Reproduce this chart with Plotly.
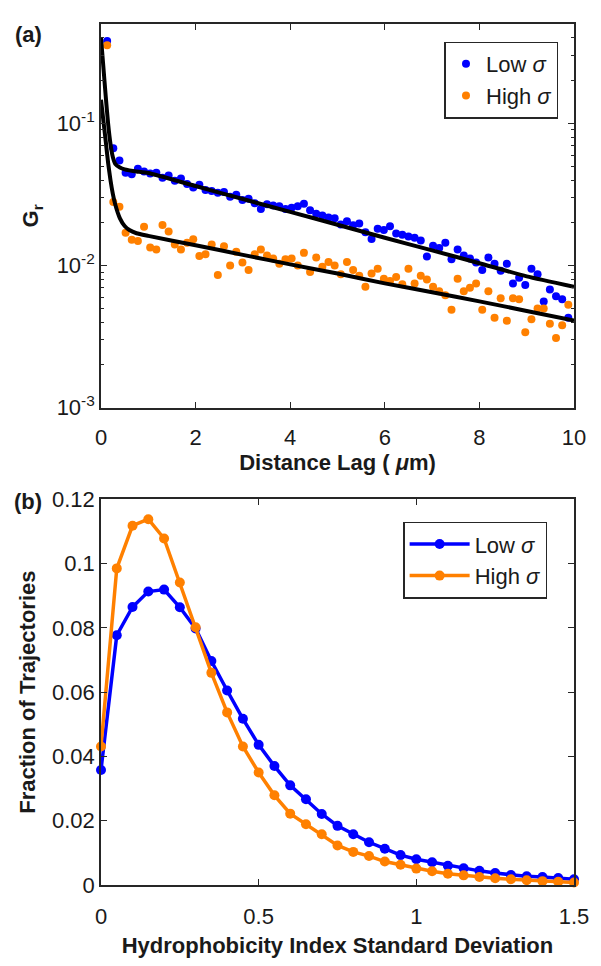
import plotly.graph_objects as go

# ---------------- Panel (a) data ----------------
lag_x = [round(0.13 * k, 2) for k in range(1, 78)]

gr_low = [0.38, 0.067, 0.055, 0.045, 0.044, 0.048, 0.046, 0.0445, 0.045, 0.0415,
          0.043, 0.0395, 0.041, 0.0375, 0.0355, 0.037, 0.034, 0.0335, 0.0325, 0.033,
          0.0305, 0.0315, 0.029, 0.0295, 0.0275, 0.025, 0.027, 0.0265, 0.0262, 0.025,
          0.0255, 0.0262, 0.0272, 0.0245, 0.0232, 0.0225, 0.0218, 0.0215, 0.0195, 0.0205,
          0.0192, 0.0198, 0.0172, 0.0154, 0.0182, 0.0178, 0.0189, 0.0168, 0.0165, 0.0160,
          0.0157, 0.0150, 0.0116, 0.0138, 0.0133, 0.0145, 0.0111, 0.0130, 0.0118, 0.0112,
          0.0105, 0.0093, 0.0114, 0.0103, 0.0092, 0.0103, 0.0075, 0.0082, 0.0073, 0.0095,
          0.0087, 0.0056, 0.0068, 0.0061, 0.0058, 0.0043, 0.0066]

gr_high = [0.355, 0.028, 0.026, 0.017, 0.0152, 0.0149, 0.0188, 0.0134, 0.0130, 0.0193,
           0.0174, 0.0141, 0.0130, 0.0145, 0.0153, 0.0117, 0.0120, 0.0141, 0.0086, 0.0137,
           0.0100, 0.0125, 0.0105, 0.0093, 0.0120, 0.0130, 0.0118, 0.0112, 0.0103, 0.0111,
           0.0112, 0.0100, 0.0123, 0.0090, 0.0114, 0.0098, 0.0106, 0.0100, 0.0087, 0.0106,
           0.0093, 0.0085, 0.0071, 0.0088, 0.0095, 0.0081, 0.0078, 0.0083, 0.0074, 0.0095,
           0.0075, 0.0085, 0.0080, 0.0071, 0.0066, 0.0062, 0.0049, 0.0081, 0.0066, 0.0070,
           0.0075, 0.0049, 0.0066, 0.0043, 0.0059, 0.0041, 0.0059, 0.0058, 0.0034, 0.0042,
           0.0050, 0.0050, 0.0039, 0.0031, 0.0038, 0.0053, 0.0035]

fit_x = [0, 0.05, 0.1, 0.15, 0.2, 0.25, 0.3, 0.4, 0.5, 0.6, 0.75, 1, 2, 3, 4, 5, 6, 7, 8, 9, 10]
fit_low = [0.40, 0.25, 0.155, 0.10, 0.072, 0.058, 0.052, 0.049, 0.0475, 0.0468, 0.046, 0.0448,
           0.0363, 0.0294, 0.0239, 0.0194, 0.0157, 0.0128, 0.0104, 0.0084, 0.0071]
fit_high = [0.147, 0.105, 0.075, 0.053, 0.040, 0.032, 0.027, 0.0215, 0.019, 0.0178, 0.0169, 0.0162,
            0.0139, 0.0119, 0.0102, 0.0088, 0.0075, 0.0065, 0.0056, 0.0048, 0.0041]

# ---------------- Panel (b) data ----------------
sd_x = [0, 0.05, 0.1, 0.15, 0.2, 0.25, 0.3, 0.35, 0.4, 0.45, 0.5, 0.55, 0.6, 0.65, 0.7, 0.75,
        0.8, 0.85, 0.9, 0.95, 1.0, 1.05, 1.1, 1.15, 1.2, 1.25, 1.3, 1.35, 1.4, 1.45, 1.5]
frac_low = [0.0358, 0.0777, 0.0865, 0.0913, 0.0919, 0.0864, 0.0798, 0.0697, 0.0605, 0.0517,
            0.0436, 0.037, 0.031, 0.0267, 0.0221, 0.0184, 0.0158, 0.0133, 0.0113, 0.0093,
            0.008, 0.0071, 0.006, 0.0052, 0.0044, 0.0037, 0.0031, 0.0027, 0.0025, 0.0022, 0.0018]
frac_high = [0.0431, 0.0985, 0.1118, 0.1138, 0.1078, 0.0941, 0.0802, 0.066, 0.0537, 0.0431,
             0.035, 0.0279, 0.0222, 0.0189, 0.0158, 0.0123, 0.0103, 0.009, 0.0073, 0.0063,
             0.0051, 0.0043, 0.0035, 0.003, 0.0025, 0.0021, 0.0018, 0.0015, 0.0012, 0.001, 0.0008]

y_ticks_a = [0.001, 0.01, 0.1]
y_ticktext_a = ["10<sup>-3</sup>", "10<sup>-2</sup>", "10<sup>-1</sup>"]
y_minor_a = [2e-3, 3e-3, 4e-3, 5e-3, 6e-3, 7e-3, 8e-3, 9e-3,
             2e-2, 3e-2, 4e-2, 5e-2, 6e-2, 7e-2, 8e-2, 9e-2,
             0.2, 0.3, 0.4, 0.5]

BLUE = "#0000FF"
ORANGE = "#FF8000"
AX = "#262626"
FONT = "Liberation Sans, Arial, sans-serif"
TXT = "#1a1a1a"

fig = go.Figure()

fig.add_trace(go.Scatter(x=lag_x, y=gr_low, mode="markers", name="Low <i>σ</i>",
                         marker=dict(color=BLUE, size=8), cliponaxis=False,
                         xaxis="x", yaxis="y", legend="legend"))
fig.add_trace(go.Scatter(x=lag_x, y=gr_high, mode="markers", name="High <i>σ</i>",
                         marker=dict(color=ORANGE, size=8), cliponaxis=False,
                         xaxis="x", yaxis="y", legend="legend"))
fig.add_trace(go.Scatter(x=fit_x, y=fit_low, mode="lines", showlegend=False,
                         line=dict(color="black", width=4, shape="spline", smoothing=0.5),
                         xaxis="x", yaxis="y"))
fig.add_trace(go.Scatter(x=fit_x, y=fit_high, mode="lines", showlegend=False,
                         line=dict(color="black", width=4, shape="spline", smoothing=0.5),
                         xaxis="x", yaxis="y"))

fig.add_trace(go.Scatter(x=sd_x, y=frac_low, mode="lines+markers", name="Low <i>σ</i>",
                         line=dict(color=BLUE, width=3.5), marker=dict(color=BLUE, size=10),
                         cliponaxis=False, xaxis="x2", yaxis="y2", legend="legend2"))
fig.add_trace(go.Scatter(x=sd_x, y=frac_high, mode="lines+markers", name="High <i>σ</i>",
                         line=dict(color=ORANGE, width=3.5), marker=dict(color=ORANGE, size=10),
                         cliponaxis=False, xaxis="x2", yaxis="y2", legend="legend2"))

axis_common = dict(showline=True, linecolor=AX, linewidth=1.6, mirror="ticks",
                   ticks="inside", ticklen=6, tickwidth=1.2, tickcolor=AX,
                   showgrid=False, zeroline=False,
                   tickfont=dict(family=FONT, size=22, color=TXT))

L, R, T, B = 101, 12, 15, 67
H = 966
plot_w = 601 - L - R
plot_h = H - T - B
a_bottom = (899 - 409) / plot_h
b_top = (899 - 503) / plot_h

title_font = dict(family=FONT, size=22, color=TXT)

fig.update_layout(
    width=601, height=966,
    margin=dict(l=L, r=R, t=T, b=B),
    paper_bgcolor="white", plot_bgcolor="white",
    font=dict(family=FONT, size=22, color=TXT),
    xaxis=dict(axis_common, domain=[0, 1], range=[0, 10], tickvals=[0, 2, 4, 6, 8, 10],
               anchor="y", ticklabelstandoff=9,
               title=dict(text="<b>Distance Lag ( <i>μ</i>m)</b>", standoff=5, font=title_font)),
    yaxis=dict(axis_common, domain=[a_bottom, 1], type="log", range=[-3, -0.3],
               tickvals=y_ticks_a, ticktext=y_ticktext_a, anchor="x",
               minor=dict(tickvals=y_minor_a, ticks="inside", ticklen=3, tickcolor=AX),
               title=dict(text="<b>G<sub>r</sub></b>", standoff=12, font=title_font)),
    xaxis2=dict(axis_common, domain=[0, 1], range=[0, 1.5], tickvals=[0, 0.5, 1, 1.5],
                anchor="y2", ticklabelstandoff=11,
                title=dict(text="<b>Hydrophobicity Index Standard Deviation</b>", standoff=9,
                           font=title_font)),
    yaxis2=dict(axis_common, domain=[0, b_top], range=[0, 0.12], dtick=0.02, anchor="x2",
                title=dict(text="<b>Fraction of Trajectories</b>", standoff=10, font=title_font)),
    legend=dict(x=(573 - L) / plot_w, y=(899 - 33) / plot_h, xanchor="right", yanchor="top",
                bordercolor=AX, borderwidth=1.5, bgcolor="white",
                font=dict(family=FONT, size=22, color=TXT),
                itemwidth=30, tracegroupgap=0),
    legend2=dict(x=(487 - L) / plot_w, y=(899 - 526) / plot_h, xanchor="center", yanchor="top",
                 bordercolor=AX, borderwidth=1.5, bgcolor="white",
                 font=dict(family=FONT, size=22, color=TXT),
                 itemwidth=60, tracegroupgap=0),
    annotations=[
        dict(text="<b>(a)</b>", xref="paper", yref="paper", x=(26 - L) / plot_w,
             y=(899 - 26) / plot_h, xanchor="center", yanchor="middle", showarrow=False,
             font=dict(family=FONT, size=22, color=TXT)),
        dict(text="<b>(b)</b>", xref="paper", yref="paper", x=(26 - L) / plot_w,
             y=(899 - 505) / plot_h, xanchor="center", yanchor="middle", showarrow=False,
             font=dict(family=FONT, size=22, color=TXT)),
    ],
)

fig.write_html("out.html")
